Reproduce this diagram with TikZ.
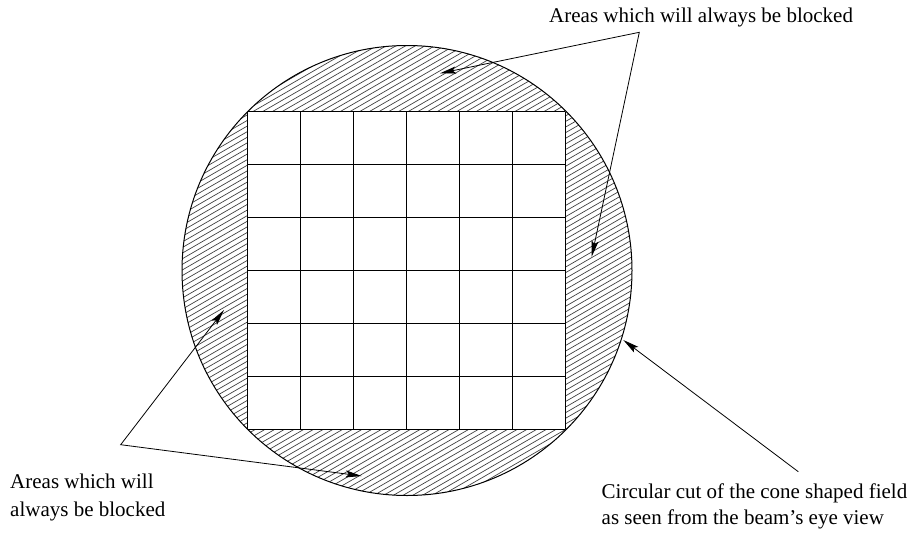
\documentclass[tikz,border=0pt]{standalone}
\usepackage{fontspec}
\setmainfont{Liberation Serif}
\usetikzlibrary{arrows.meta}
\begin{document}
\begin{tikzpicture}[x=1pt,y=-1pt,
  lbl/.style={anchor=base west, inner sep=0pt, font=\fontsize{21}{28}\selectfont},
  ptr/.style={line width=0.8pt},
  tip/.tip={Stealth[length=16pt,width=7pt,inset=3pt]},
  hatchline/.style={line width=0.7pt, black!75},
  edge/.style={line width=1pt}]
\useasboundingbox (0,0) rectangle (913,536);
\coordinate (cc) at (407,270.5);
% hatching of the circular field
\begin{scope}
  \clip (cc) circle[radius=225];
  \foreach \c in {140,145.6,...,880}
    \draw[hatchline] (170,{\c-0.57735*170}) -- (650,{\c-0.57735*650});
\end{scope}
% open square field with 6x6 leaves
\fill[white] (247.5,111.5) rectangle (565,429);
\foreach \i in {0,...,6} {
  \draw[edge] ({247.5+\i*52.917},111.5) -- ({247.5+\i*52.917},429);
  \draw[edge] (247.5,{111.5+\i*52.917}) -- (565,{111.5+\i*52.917});
}
\draw[edge] (cc) circle[radius=225];
% labels
\node[lbl] (topl) at (549,22) {Areas which will always be blocked};
\node[lbl] (bl1) at (10,488) {Areas which will};
\node[lbl] (bl2) at (10,516) {always be blocked};
\node[lbl] (br1) at (601.5,498) {Circular cut of the cone shaped field};
\node[lbl] (br2) at (601.5,524) {as seen from the beam’s eye view};
% pointer coordinates
\coordinate (apexT) at (639.3,32.3);
\coordinate (tipTop) at (440,73.3);
\coordinate (tipRight) at (591.7,256.7);
\coordinate (apexB) at (120.7,444.7);
\coordinate (tipLeft) at (224,310);
\coordinate (tipBottom) at (361.7,476);
\coordinate (startC) at (798.3,471.7);
\coordinate (tipCircle) at (623.3,340);
\draw[ptr, tip-tip] (tipTop) -- (apexT) -- (tipRight);
\draw[ptr, tip-tip] (tipLeft) -- (apexB) -- (tipBottom);
\draw[ptr, -tip] (startC) -- (tipCircle);
\end{tikzpicture}
\end{document}
